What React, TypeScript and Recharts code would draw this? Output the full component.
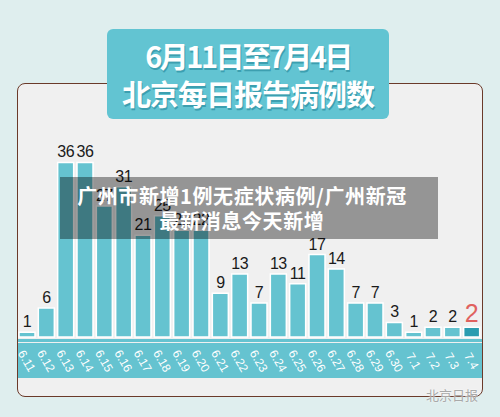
import React from 'react';
import { BarChart, Bar, Cell, XAxis, YAxis, LabelList } from 'recharts';

// --- Data ---

const days = [
    '6.11', '6.12', '6.13', '6.14', '6.15', '6.16', '6.17', '6.18', '6.19', '6.20',
    '6.21', '6.22', '6.23', '6.24', '6.25', '6.26', '6.27', '6.28', '6.29', '6.30',
    '7.1', '7.2', '7.3', '7.4',
];
const cases = [1, 6, 36, 36, 27, 31, 21, 25, 22, 22, 9, 13, 7, 13, 11, 17, 14, 7, 7, 3, 1, 2, 2, 2];

const titleLines = ['6月11日至7月4日', '北京每日报告病例数'];
const bannerLines = ['广州市新增1例无症状病例/广州新冠', '最新消息今天新增'];
const sourceText = '北京日报';

const data = days.map((day, i) => ({ day, cases: cases[i] }));
const lastIndex = data.length - 1;

const BAR = '#65c3d0';
const BAR_LAST = '#2b9cb0';
const CJK = '"Noto Sans CJK SC", "Noto Sans", sans-serif';

const DayTick = (props: any) => {
    const { x, y, payload } = props;
    return (
        <text
            transform={`translate(${x},${y + 16}) rotate(60)`}
            textAnchor="middle"
            dominantBaseline="central"
            fill="#ffffff"
            fontSize={12}
            fontFamily="'Liberation Sans', Arial, sans-serif"
        >
            {payload.value}
        </text>
    );
};

const ValueLabel = (props: any) => {
    const { x, y, width, value, index } = props;
    const last = index === lastIndex;
    return (
        <text
            x={x + width / 2}
            y={y - 5}
            textAnchor="middle"
            fill={last ? '#e0625f' : '#1a1a1a'}
            fontSize={last ? 25 : 16}
            letterSpacing={last ? 0 : -0.5}
            fontFamily="'Liberation Sans', Arial, sans-serif"
        >
            {value}
        </text>
    );
};

export default function App() {
    return (
        <div style={{ position: 'absolute', left: 0, top: 0, width: 500, height: 417, background: '#dfeeee', overflow: 'hidden' }}>
            {/* card */}
            <div style={{
                position: 'absolute', left: 17, top: 83, width: 466, height: 314, boxSizing: 'border-box',
                border: '1.5px solid #6b3a2a', borderRadius: 8, background: '#f0f0f0'
            }} />
            {/* base strip + date band */}
            <div style={{ position: 'absolute', left: 18, top: 339, width: 464, height: 3, background: BAR }} />
            <div style={{ position: 'absolute', left: 18, top: 343, width: 464, height: 35, background: BAR }} />

            <div style={{ position: 'absolute', left: 0, top: 0 }}>
                <BarChart width={500} height={417} data={data} margin={{ top: 143, right: 19, bottom: 40, left: 17 }}>
                    <XAxis dataKey="day" interval={0} tickLine={false} axisLine={false} height={40} tick={<DayTick />} />
                    <YAxis hide domain={[0, 40]} />
                    <Bar dataKey="cases" barSize={16} fill={BAR} stroke="#ffffff" strokeWidth={1.5} isAnimationActive={false}>
                        {data.map((entry, index) => (
                            <Cell key={`cell-${index}`} fill={index === lastIndex ? BAR_LAST : BAR} />
                        ))}
                        <LabelList dataKey="cases" content={<ValueLabel />} />
                    </Bar>
                </BarChart>
            </div>

            {/* title box */}
            <div style={{
                position: 'absolute', left: 107, top: 29, width: 282, height: 90, borderRadius: 6, background: '#62c4d2',
                color: '#ffffff', fontFamily: CJK, fontWeight: 700, fontSize: 29, lineHeight: '38px', textAlign: 'center',
                paddingTop: 7, boxSizing: 'border-box', textShadow: '1px 2px 0 #3c9fb0'
            }}>
                <div style={{ letterSpacing: -2.5 }}>{titleLines[0]}</div>
                <div style={{ letterSpacing: -1 }}>{titleLines[1]}</div>
            </div>

            {/* overlay banner */}
            <div style={{
                position: 'absolute', left: 60, top: 177, width: 378, height: 62, background: 'rgba(0,0,0,0.38)',
                color: '#ffffff', fontFamily: CJK, fontWeight: 700, fontSize: 20, lineHeight: '25px', textAlign: 'center',
                paddingTop: 6, paddingRight: 14, boxSizing: 'border-box', letterSpacing: 0.6
            }}>
                {bannerLines.map((t) => <div key={t} style={{ whiteSpace: 'nowrap' }}>{t}</div>)}
            </div>

            {/* source mark */}
            <div style={{
                position: 'absolute', left: 426, top: 385, color: '#a9a9a9', fontFamily: CJK, fontSize: 13,
                textShadow: '0 0 2px #ffffff'
            }}>
                {sourceText}
            </div>
        </div>
    );
}
